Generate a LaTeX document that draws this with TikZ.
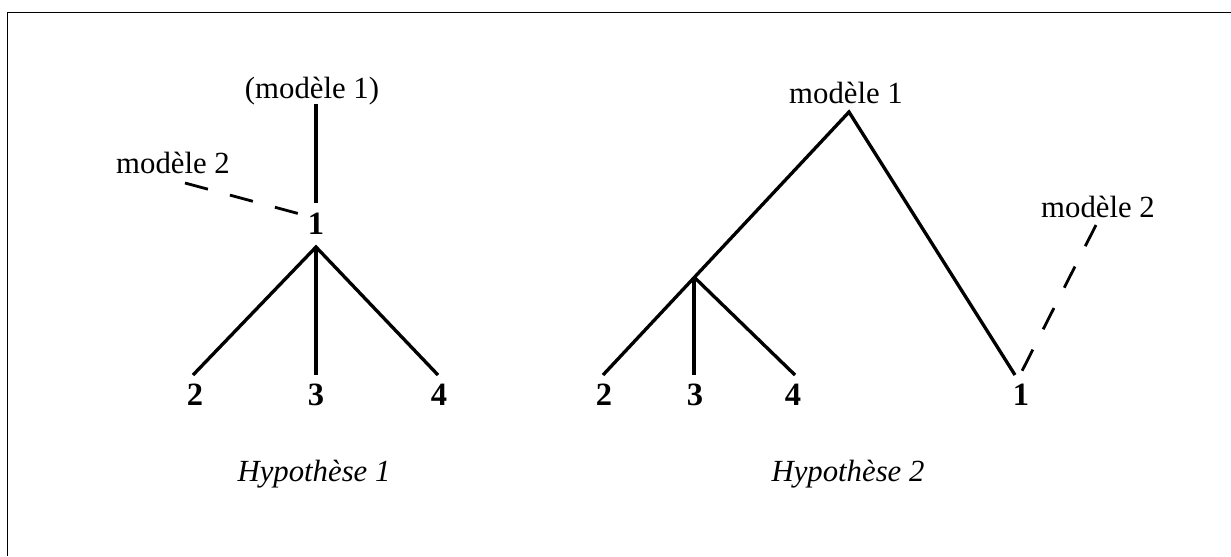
\documentclass[tikz,border=0pt]{standalone}
\usepackage{fontspec}
\setmainfont{Liberation Serif}
\begin{document}
\begin{tikzpicture}[x=0.02cm,y=-0.02cm,
  edge/.style={line width=1.9pt, line cap=butt},
  dashedge/.style={line width=1.6pt, dash pattern=on 13.5pt off 13pt},
  lbl/.style={inner sep=0pt, anchor=base, font=\fontsize{17.5}{20}\selectfont},
  num/.style={inner sep=0pt, anchor=base, font=\fontsize{18.5}{20}\selectfont\bfseries},
  hyp/.style={inner sep=0pt, anchor=base, font=\fontsize{17.5}{20}\selectfont\itshape}]
\useasboundingbox (0,0) rectangle (1231,556);
% frame (top and left edges)
\coordinate (F0) at (7.5,556);
\coordinate (F1) at (7.5,12.5);
\coordinate (F2) at (1231,12.5);
\draw[line width=1.1pt] (F0) -- (F1) -- (F2);

% ---- Hypothese 1 ----
\node[lbl] (m1a) at (312,98) {(modèle 1)};
\node[lbl] (m2a) at (173,173) {modèle 2};
\node[num] (n1a) at (316,234) {1};
\coordinate (L1top) at (316,104);
\coordinate (L1bot) at (316,203);
\coordinate (Lapex) at (316,247);
\coordinate (L2) at (193,375);
\coordinate (L3) at (316,375);
\coordinate (L4) at (438,375);
\coordinate (Ld1) at (185,183);
\coordinate (Ld2) at (300,214);
\draw[edge] (L1top) -- (L1bot);
\draw[dashedge] (Ld1) -- (Ld2);
\draw[edge] (L2) -- (Lapex) -- (L4);
\draw[edge] (Lapex) -- (L3);
\node[num] (n2a) at (195,405) {2};
\node[num] (n3a) at (316,405) {3};
\node[num] (n4a) at (439,405) {4};
\node[hyp] (h1) at (314,481) {Hypothèse 1};

% ---- Hypothese 2 ----
\node[lbl] (m1b) at (846,103) {modèle 1};
\node[lbl] (m2b) at (1098,217) {modèle 2};
\coordinate (Rapex) at (849,112);
\coordinate (Rmid) at (694,277);
\coordinate (R2) at (603,375);
\coordinate (R3) at (694,375);
\coordinate (R4) at (795,375);
\coordinate (R1) at (1015,375);
\coordinate (Rd1) at (1096,225);
\coordinate (Rd2) at (1021,373);
\draw[edge] (R2) -- (Rapex) -- (R1);
\draw[edge] (Rmid) -- (R3);
\draw[edge] (Rmid) -- (R4);
\draw[dashedge] (Rd1) -- (Rd2);
\node[num] (n2b) at (604,405) {2};
\node[num] (n3b) at (695,405) {3};
\node[num] (n4b) at (793,405) {4};
\node[num] (n1b) at (1021,405) {1};
\node[hyp] (h2) at (848,481) {Hypothèse 2};
\end{tikzpicture}
\end{document}
